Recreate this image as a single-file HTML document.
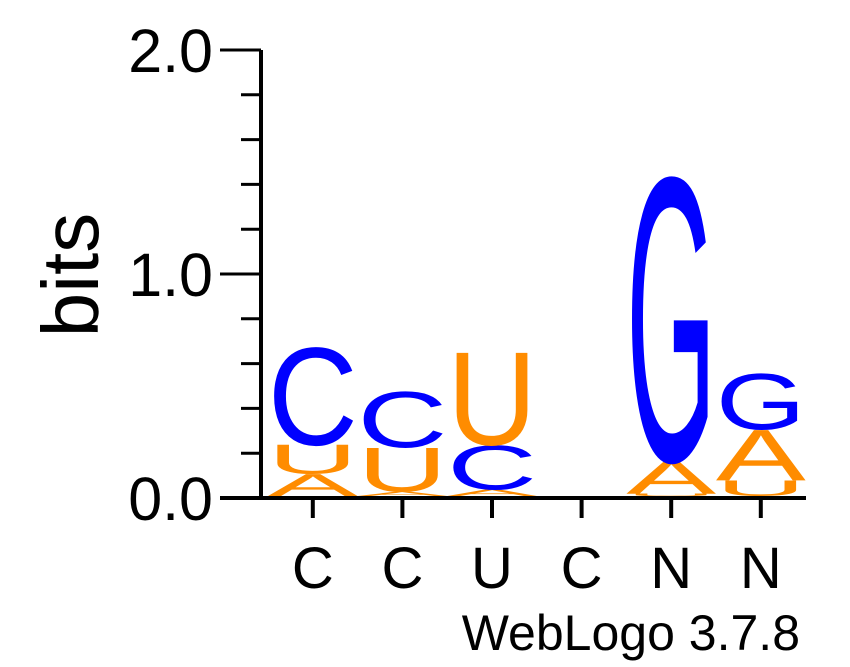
<!DOCTYPE html>
<html><head><meta charset="utf-8"><style>
html,body{margin:0;padding:0;background:#fff;}
svg{display:block;font-family:"Liberation Sans",sans-serif;}
</style></head><body>
<svg id="chart" width="850" height="667" viewBox="0 0 850 667"></svg>
<script>
const positions = ["C","C","U","C","N","N"];
// stacks bottom -> top: [letter, bits]
const stackLetters = [["A","U","C"],["A","U","C"],["A","C","U"],[],["U","A","G"],["U","A","G"]];
const stackBits = [[0.10,0.13,0.44],[0.02,0.20,0.25],[0.03,0.20,0.42],[],[0.01,0.15,1.28],[0.07,0.23,0.25]];
const yTicks = [0,1,2];
const yTickLabels = ["0.0","1.0","2.0"];
const colors = {A:"#ff8c00",U:"#ff8c00",C:"#0000ff",G:"#0000ff"};

const NS="http://www.w3.org/2000/svg";
const svg=document.getElementById('chart');
const y0=496, pxPerBit=223;
const yS=v=>y0-v*pxPerBit;
const colStart=268, colW=89.6;
const xS=i=>colStart+colW*i+colW/2;
function mk(t,a,p){const e=document.createElementNS(NS,t);for(const k in a)e.setAttribute(k,a[k]);(p||svg).appendChild(e);return e;}

// axes
let e=mk('line',{x1:261,y1:50,x2:261,y2:500,stroke:'#000','stroke-width':4});


e=mk('line',{x1:220,y1:498,x2:806,y2:498,stroke:'#000','stroke-width':4});


const tickY=v=>498-v*224;
for(let v=0;v<=20;v++){
  const major=v%10===0;
  if(!major && v%2!==0) continue;
  const t=mk('line',{x1:major?220:241,y1:tickY(v/10),x2:261,y2:tickY(v/10),stroke:'#000','stroke-width':3});
  
  
}
yTicks.forEach((v,i)=>{
  const t=mk('text',{x:213,y:tickY(v)+22,'text-anchor':'end','font-size':61});
  t.textContent=yTickLabels[i];
  
  
});
e=mk('text',{transform:'translate(98,275) rotate(-90)','text-anchor':'middle','font-size':80});
e.textContent='bits';



positions.forEach((p,i)=>{
  const t=mk('line',{x1:xS(i),y1:498,x2:xS(i),y2:518,stroke:'#000','stroke-width':4});
  
  
  const l=mk('text',{x:xS(i),y:588,'text-anchor':'middle','font-size':58});
  l.textContent=p;
  
  
});

// letters
const cap=71.6, lw=90;
stackLetters.forEach((col,i)=>{
  let base=0;
  col.forEach((L,j)=>{
    const h=stackBits[i][j];
    const bottom=yS(base), hp=h*pxPerBit*1.02;
    const g=mk('g',{transform:`translate(${xS(i)-lw/2},${bottom}) scale(1,${hp/cap})`});
    
    
    const t=mk('text',{x:0,y:0,'font-size':100,fill:colors[L],textLength:lw,lengthAdjust:'spacingAndGlyphs'},g);
    t.textContent=L;
    base+=h;
  });
});

e=mk('text',{x:800,y:650,'text-anchor':'end','font-size':50});
e.textContent='WebLogo 3.7.8';


</script>
</body></html>
